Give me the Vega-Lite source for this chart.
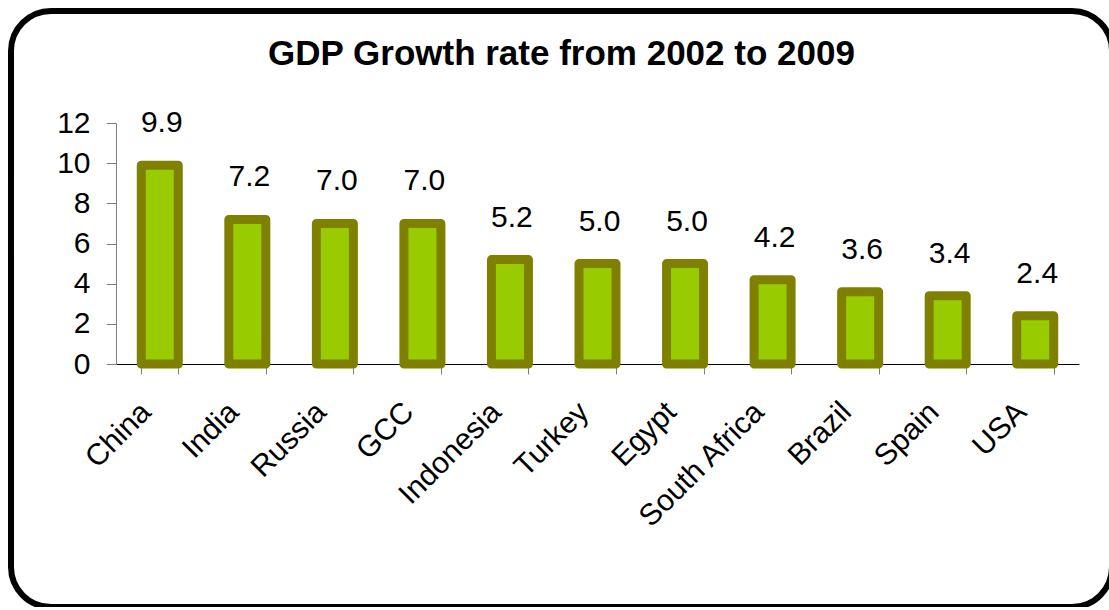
{
  "$schema": "https://vega.github.io/schema/vega-lite/v6.json",
  "width": 1101,
  "height": 596,
  "autosize": {"type": "none"},
  "padding": {"left": 11, "top": 11, "right": 0, "bottom": 0},
  "background": "white",
  "config": {
    "font": "Liberation Sans",
    "view": {"stroke": "#000000", "strokeWidth": 6, "cornerRadius": 40, "fill": "white"}
  },
  "title": {
    "text": "GDP Growth rate from 2002 to 2009",
    "fontSize": 35,
    "fontWeight": "bold",
    "font": "Liberation Sans",
    "color": "#000000",
    "anchor": "middle",
    "frame": "group",
    "baseline": "alphabetic",
    "offset": -89
  },
  "data": {
    "values": [
      {"country": "China", "growth": 9.9},
      {"country": "India", "growth": 7.2},
      {"country": "Russia", "growth": 7.0},
      {"country": "GCC", "growth": 7.0},
      {"country": "Indonesia", "growth": 5.2},
      {"country": "Turkey", "growth": 5.0},
      {"country": "Egypt", "growth": 5.0},
      {"country": "South Africa", "growth": 4.2},
      {"country": "Brazil", "growth": 3.6},
      {"country": "Spain", "growth": 3.4},
      {"country": "USA", "growth": 2.4}
    ]
  },
  "encoding": {
    "x": {
      "field": "country",
      "type": "nominal",
      "sort": null,
      "scale": {"range": [105, 1068], "paddingInner": 0.5774, "paddingOuter": 0.2887},
      "axis": {
        "title": null,
        "orient": "bottom",
        "offset": -243,
        "domainColor": "#000000",
        "domainWidth": 1,
        "tickColor": "#808080",
        "tickSize": 10,
        "tickBand": "extent",
        "labelAngle": -45,
        "labelAlign": "right",
        "labelBaseline": "middle",
        "labelOffset": -14,
        "labelPadding": 33,
        "labelFontSize": 30,
        "labelColor": "#000000",
        "labelFont": "Liberation Sans",
        "labelOverlap": false
      }
    },
    "y": {
      "field": "growth",
      "type": "quantitative",
      "scale": {"domain": [0, 12], "range": [353, 112], "nice": false, "zero": true},
      "axis": {
        "title": null,
        "orient": "left",
        "offset": -105,
        "values": [0, 2, 4, 6, 8, 10, 12],
        "grid": false,
        "domainColor": "#808080",
        "tickColor": "#808080",
        "tickSize": 10,
        "labelPadding": 16,
        "labelFontSize": 30,
        "labelColor": "#000000",
        "labelFont": "Liberation Sans"
      }
    }
  },
  "layer": [
    {
      "mark": {"type": "bar", "fill": "#99CC00", "stroke": "#808000", "strokeWidth": 9, "strokeJoin": "round"}
    },
    {
      "mark": {"type": "text", "baseline": "alphabetic", "align": "center", "dy": -33, "dx": 2, "fontSize": 30, "font": "Liberation Sans", "color": "#000000"},
      "encoding": {"text": {"field": "growth", "type": "quantitative", "format": ".1f"}}
    }
  ]
}
